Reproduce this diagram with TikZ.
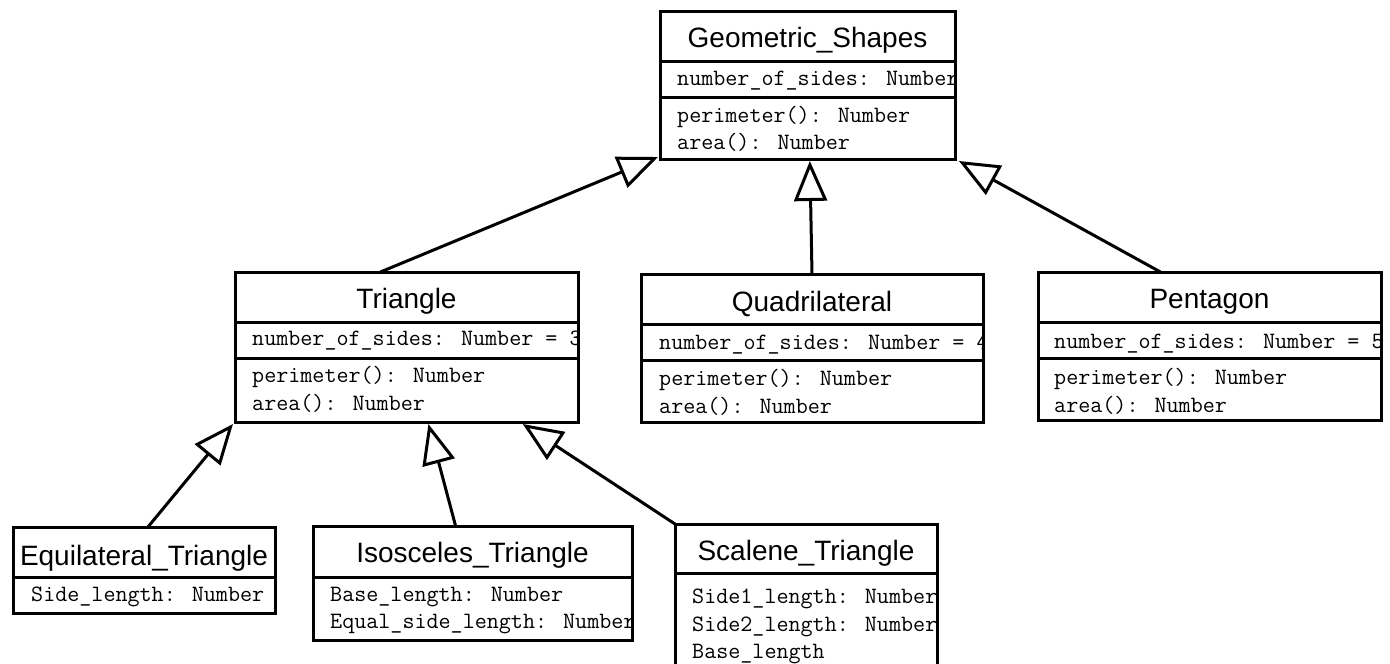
\documentclass[tikz,border=0pt]{standalone}
\usepackage{fontspec}
\usetikzlibrary{arrows.meta,calc}
\newfontfamily\umltitle{Liberation Sans}
\tikzset{
  classbox/.style={draw, line width=3pt, rectangle, inner sep=0pt, outer sep=0pt, anchor=north west},
  divider/.style={line width=3pt},
  ttl/.style={font=\umltitle\fontsize{28}{30}\selectfont, anchor=base, inner sep=0pt},
  mem/.style={font=\ttfamily\fontsize{23.4}{25}\selectfont, anchor=base west, inner sep=0pt},
  gen/.style={line width=3pt, -{Triangle[open, length=40pt, width=33pt, line width=3pt]}},
}
\begin{document}
\begin{tikzpicture}[x=1pt, y=-1pt]
\clip (0,0) rectangle (1390,664);
\fill[white] (0,0) rectangle (1390,664);

% class boxes
\node[classbox, minimum width=295pt, minimum height=148pt] (gs) at (660,11) {};
\node[classbox, minimum width=343pt, minimum height=150pt] (tri) at (235,272) {};
\node[classbox, minimum width=342pt, minimum height=148pt] (quad) at (641,274) {};
\node[classbox, minimum width=343pt, minimum height=148pt] (pent) at (1038,272) {};
\node[classbox, minimum width=262pt, minimum height=86pt] (eq) at (13,527) {};
\node[classbox, minimum width=319pt, minimum height=114pt] (iso) at (313,526) {};
\node[classbox, minimum width=262pt, minimum height=170pt] (sca) at (675,524) {};

% Geometric_Shapes
\draw[divider] (660,61) -- (955,61);
\draw[divider] (660,97) -- (955,97);
\node[ttl] (gs-t) at ($(gs.north)+(0,36)$) {Geometric\_Shapes};
\begin{scope}
  \clip ($(gs.north west)+(1.5,1.5)$) rectangle ($(gs.south east)+(-1.5,-1.5)$);
  \node[mem] (gs-a) at (677,85) {number\_of\_sides: Number};
  \node[mem] (gs-m1) at (677,122) {perimeter(): Number};
  \node[mem] (gs-m2) at (677,149) {area(): Number};
\end{scope}

% Triangle
\draw[divider] (235,322) -- (578,322);
\draw[divider] (235,358) -- (578,358);
\node[ttl] (tri-t) at ($(tri.north)+(0,36)$) {Triangle};
\begin{scope}
  \clip ($(tri.north west)+(1.5,1.5)$) rectangle ($(tri.south east)+(-1.5,-1.5)$);
  \node[mem] (tri-a) at (252,345) {number\_of\_sides: Number = 3};
  \node[mem] (tri-m1) at (252,382) {perimeter(): Number};
  \node[mem] (tri-m2) at (252,410) {area(): Number};
\end{scope}

% Quadrilateral
\draw[divider] (641,324) -- (983,324);
\draw[divider] (641,360) -- (983,360);
\node[ttl] (quad-t) at ($(quad.north)+(0,37)$) {Quadrilateral};
\begin{scope}
  \clip ($(quad.north west)+(1.5,1.5)$) rectangle ($(quad.south east)+(-1.5,-1.5)$);
  \node[mem] (quad-a) at (659,349) {number\_of\_sides: Number = 4};
  \node[mem] (quad-m1) at (659,385) {perimeter(): Number};
  \node[mem] (quad-m2) at (659,413) {area(): Number};
\end{scope}

% Pentagon
\draw[divider] (1038,322) -- (1381,322);
\draw[divider] (1038,358) -- (1381,358);
\node[ttl] (pent-t) at ($(pent.north)+(0,36)$) {Pentagon};
\begin{scope}
  \clip ($(pent.north west)+(1.5,1.5)$) rectangle ($(pent.south east)+(-1.5,-1.5)$);
  \node[mem] (pent-a) at (1054,348) {number\_of\_sides: Number = 5};
  \node[mem] (pent-m1) at (1054,384) {perimeter(): Number};
  \node[mem] (pent-m2) at (1054,412) {area(): Number};
\end{scope}

% Equilateral_Triangle
\draw[divider] (13,577) -- (275,577);
\node[ttl] (eq-t) at ($(eq.north)+(0,38)$) {Equilateral\_Triangle};
\begin{scope}
  \clip ($(eq.north west)+(1.5,1.5)$) rectangle ($(eq.south east)+(-1.5,-1.5)$);
  \node[mem] (eq-a) at (31,601) {Side\_length: Number};
\end{scope}

% Isosceles_Triangle
\draw[divider] (313,577) -- (632,577);
\node[ttl] (iso-t) at ($(iso.north)+(0,36)$) {Isosceles\_Triangle};
\begin{scope}
  \clip ($(iso.north west)+(1.5,1.5)$) rectangle ($(iso.south east)+(-1.5,-1.5)$);
  \node[mem] (iso-a1) at (330,601) {Base\_length: Number};
  \node[mem] (iso-a2) at (330,628) {Equal\_side\_length: Number};
\end{scope}

% Scalene_Triangle
\draw[divider] (675,573) -- (937,573);
\node[ttl] (sca-t) at ($(sca.north)+(0,36)$) {Scalene\_Triangle};
\begin{scope}
  \clip ($(sca.north west)+(1.5,1.5)$) rectangle ($(sca.south east)+(-1.5,-1.5)$);
  \node[mem] (sca-a1) at (692,603) {Side1\_length: Number};
  \node[mem] (sca-a2) at (692,631) {Side2\_length: Number};
  \node[mem] (sca-a3) at (692,658) {Base\_length};
\end{scope}

% generalization arrows
\draw[gen] ($(tri.north west)!0.424!(tri.north east)$) -- ($(gs.south west)+(-2,-2)$);
\draw[gen] ($(quad.north west)!0.5!(quad.north east)$) -- ($(gs.south west)!0.508!(gs.south east)+(0,2)$);
\draw[gen] ($(pent.north west)!0.357!(pent.north east)$) -- ($(gs.south east)+(4,2)$);
\draw[gen] ($(eq.north west)!0.515!(eq.north east)$) -- ($(tri.south west)+(-2,2)$);
\draw[gen] ($(iso.north west)!0.447!(iso.north east)$) -- ($(tri.south west)!0.564!(tri.south east)+(0,2)$);
\draw[gen] (sca.north west) -- ($(tri.south west)!0.839!(tri.south east)+(0,2)$);
\end{tikzpicture}
\end{document}
